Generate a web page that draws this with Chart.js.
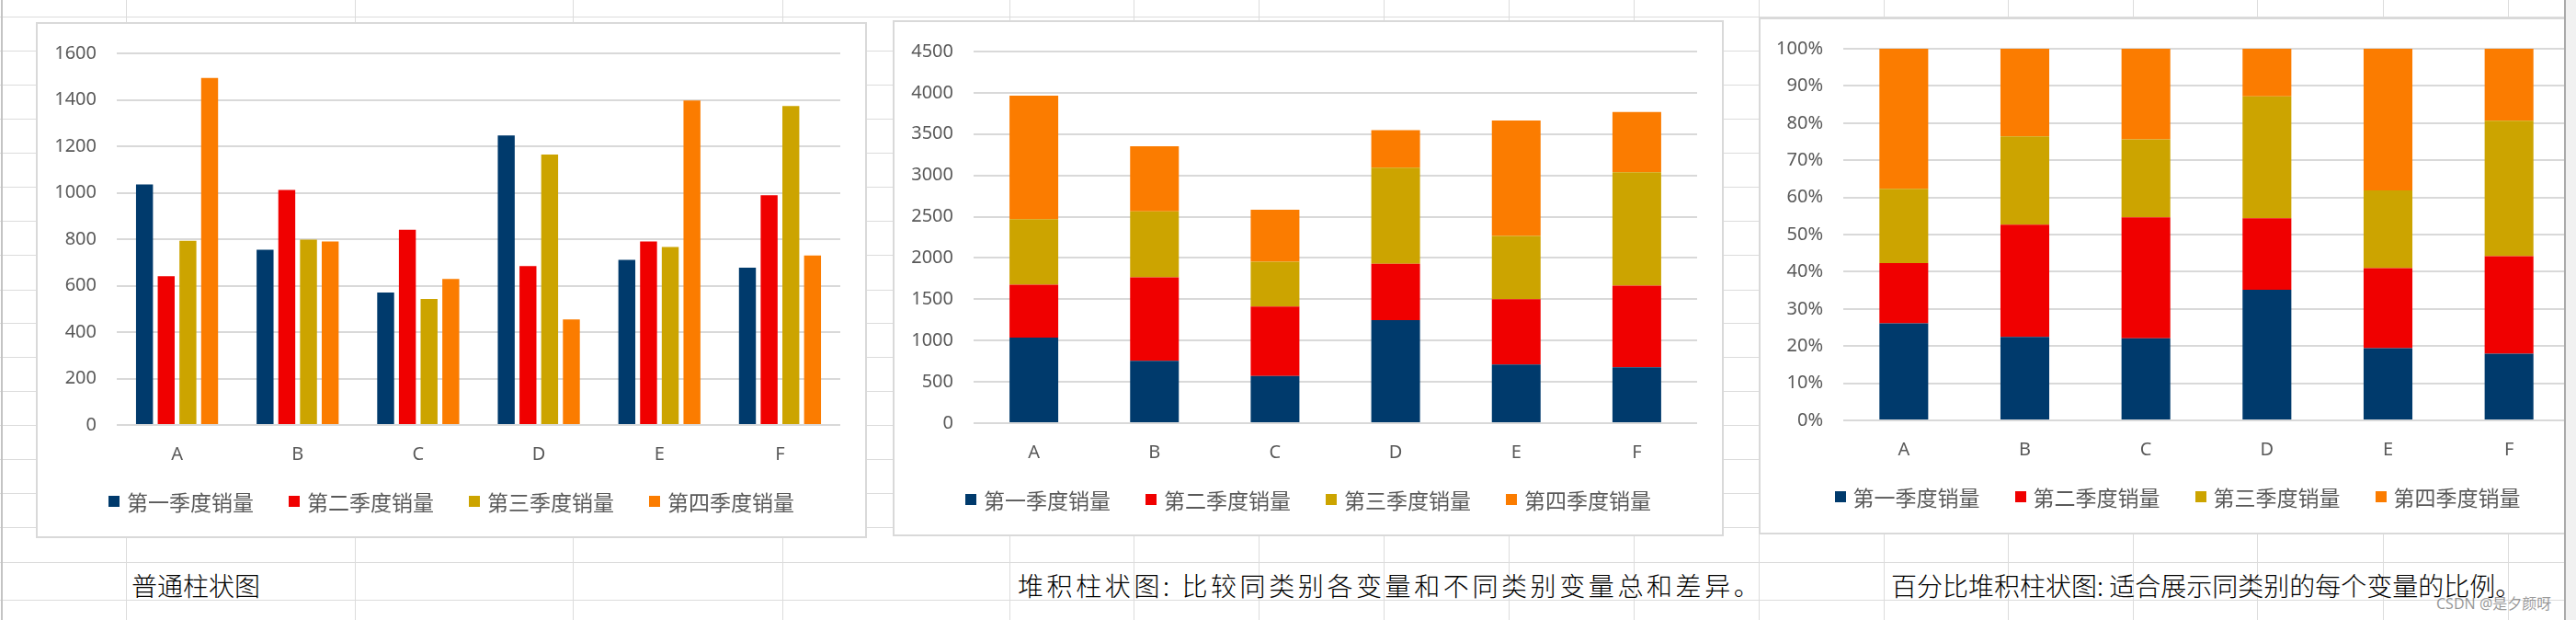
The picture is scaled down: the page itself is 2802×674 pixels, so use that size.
<!DOCTYPE html>
<html><head><meta charset="utf-8">
<script src="https://cdn.jsdelivr.net/npm/chart.js@4.4.1/dist/chart.umd.min.js"></script>
<style>
html,body{margin:0;padding:0;background:#fff;width:2802px;height:674px;overflow:hidden;position:relative;font-family:"Noto Sans","Noto Sans CJK SC",sans-serif;}
.hl{position:absolute;left:0;width:2802px;height:1px;background:#dcdcdc}
.vl{position:absolute;top:0;height:674px;width:1px;background:#dcdcdc}
.box{position:absolute;background:#fff;overflow:hidden}
.box canvas{position:absolute;left:0;top:0}
.frame{position:absolute;left:0;top:0;right:0;bottom:0;border:2px solid #d9d9d9;box-sizing:border-box;pointer-events:none}
.legend{position:absolute;left:0;right:0;top:506px;height:30px;display:flex;justify-content:center;align-items:center;font-family:"Noto Sans CJK SC",sans-serif;font-size:23px;color:#595959;white-space:nowrap}
.legend .item{display:flex;align-items:center;margin:0 19px}
.legend .sw{width:12px;height:12px;margin-right:8px;flex:none}
.note{position:absolute;font-family:"Noto Sans CJK SC",sans-serif;font-weight:300;font-size:28px;line-height:28px;color:#000;white-space:nowrap}
.wm{position:absolute;font-family:"Noto Sans","Noto Sans CJK SC",sans-serif;font-size:16px;line-height:16px;color:rgba(120,120,120,0.75);white-space:nowrap}
.scroll{position:absolute;left:2789px;top:0;width:13px;height:674px;background:#f1f1f1;border-left:2px solid #a9a9a9;box-sizing:border-box;z-index:10}
</style>
</head>
<body>
<div id="sheet"></div>
<div id="charts"></div>
<div class="scroll"></div>
<script>
// ---- data ----
const categories = ['A', 'B', 'C', 'D', 'E', 'F'];
const seriesNames = ['第一季度销量', '第二季度销量', '第三季度销量', '第四季度销量'];
const q1Sales = [1036, 754, 570, 1247, 711, 677];
const q2Sales = [641, 1012, 841, 684, 790, 989];
const q3Sales = [793, 798, 543, 1164, 766, 1373];
const q4Sales = [1494, 790, 629, 454, 1397, 730];
const seriesColors = ['#003A6C', '#F00000', '#CCA400', '#FB7C00'];
const notes = [
  '普通柱状图',
  '堆积柱状图: 比较同类别各变量和不同类别变量总和差异。',
  '百分比堆积柱状图: 适合展示同类别的每个变量的比例。'
];
const watermark = 'CSDN @是夕颜呀';

// ---- spreadsheet background (decoration) ----
const rowLines = [18, 55, 92, 129, 166, 203, 240, 277, 315, 351, 388, 425, 462, 499, 536, 573, 611, 652];
const colLines = [137, 386, 623, 851, 1098, 1233, 1369, 1505, 1641, 1777, 1913, 2049, 2184, 2320, 2455, 2592, 2728];
const sheet = document.getElementById('sheet');
rowLines.forEach(y => { const d = document.createElement('div'); d.className = 'hl'; d.style.top = y + 'px'; sheet.appendChild(d); });
colLines.forEach(x => { const d = document.createElement('div'); d.className = 'vl'; d.style.left = x + 'px'; sheet.appendChild(d); });
{ const d = document.createElement('div'); d.className = 'vl'; d.style.left = '1px'; d.style.width = '2px'; d.style.background = '#c4c4c4'; sheet.appendChild(d); }

const notePos = [[143, 622, 0], [1107, 622, 3.6], [2057, 622, 0]];
notes.forEach((t, i) => {
  const d = document.createElement('div'); d.className = 'note'; d.textContent = t;
  d.style.left = notePos[i][0] + 'px'; d.style.top = notePos[i][1] + 'px';
  d.style.letterSpacing = notePos[i][2] + 'px';
  sheet.appendChild(d);
});
{ const d = document.createElement('div'); d.className = 'wm'; d.textContent = watermark; d.style.left = '2650px'; d.style.top = '648px'; d.style.zIndex = 5; document.body.appendChild(d); }

// ---- charts ----
const allSeries = [q1Sales, q2Sales, q3Sales, q4Sales];
const totals = categories.map((_, i) => allSeries.reduce((s, arr) => s + arr[i], 0));
const pctSeries = allSeries.map(arr => arr.map((v, i) => v / totals[i] * 100));

const tickFont = { family: '"Noto Sans", "Open Sans", sans-serif', size: 20 };
const grey = '#595959';

function makeBox(left, top, w, h) {
  const box = document.createElement('div'); box.className = 'box';
  Object.assign(box.style, { left: left + 'px', top: top + 'px', width: w + 'px', height: h + 'px' });
  const cv = document.createElement('canvas'); cv.width = w; cv.height = h;
  cv.style.width = w + 'px'; cv.style.height = h + 'px';
  box.appendChild(cv);
  const lg = document.createElement('div'); lg.className = 'legend';
  seriesNames.forEach((n, i) => {
    const it = document.createElement('div'); it.className = 'item';
    const sw = document.createElement('div'); sw.className = 'sw'; sw.style.background = seriesColors[i];
    const tx = document.createElement('span'); tx.textContent = n;
    it.appendChild(sw); it.appendChild(tx); lg.appendChild(it);
  });
  box.appendChild(lg);
  const fr = document.createElement('div'); fr.className = 'frame'; box.appendChild(fr);
  document.getElementById('charts').appendChild(box);
  return cv;
}

function build(cv, seriesData, o) {
  const datasets = seriesData.map((arr, i) => ({
    label: seriesNames[i], data: arr, backgroundColor: seriesColors[i], borderWidth: 0,
    categoryPercentage: o.cat, barPercentage: o.bar
  }));
  return new Chart(cv, {
    type: 'bar',
    data: { labels: categories, datasets },
    options: {
      responsive: false, animation: false, devicePixelRatio: 1,
      layout: { padding: { top: 29, left: 0, right: 29, bottom: o.bottomPad } },
      plugins: { legend: { display: false }, tooltip: { enabled: false } },
      scales: {
        x: {
          stacked: o.stacked,
          grid: { display: false, drawTicks: false }, border: { display: false },
          ticks: { font: tickFont, color: grey, padding: 20 },
          afterFit(s) { s.height = 50; }
        },
        y: {
          stacked: o.stacked, min: 0, max: o.max,
          grid: { color: '#d9d9d9', lineWidth: 2, drawTicks: false }, border: { display: false },
          ticks: { font: tickFont, color: grey, padding: 22, stepSize: o.step, callback: o.fmt || (v => v) },
          afterFit(s) { s.width = o.yW; }
        }
      }
    }
  });
}

build(makeBox(39, 24, 904, 561), allSeries, { stacked: false, max: 1600, step: 200, cat: 0.72, bar: 0.78, yW: 88, bottomPad: 73 });
build(makeBox(971, 22, 904, 561), allSeries, { stacked: true, max: 4500, step: 500, cat: 1, bar: 0.404, yW: 88, bottomPad: 73 });
build(makeBox(1913, 19, 911, 562), pctSeries, { stacked: true, max: 100, step: 10, cat: 1, bar: 0.403, yW: 92, bottomPad: 74, fmt: v => v + '%' });
</script>
</body></html>
